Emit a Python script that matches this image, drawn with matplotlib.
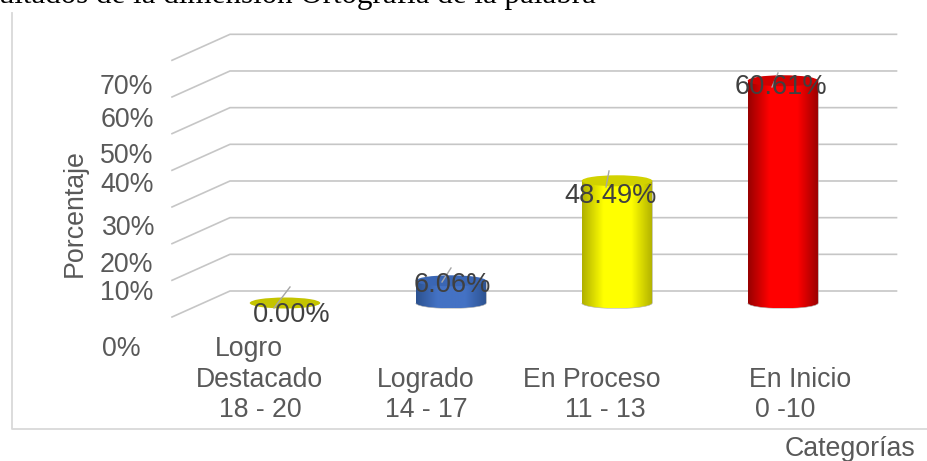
import numpy as np
import matplotlib
matplotlib.use("Agg")
import matplotlib.pyplot as plt
from matplotlib.patches import Ellipse, PathPatch
from matplotlib.path import Path
from matplotlib.transforms import Affine2D
from matplotlib.colors import LinearSegmentedColormap

# -------------------------------
# Data
# -------------------------------
categories = ["Logro Destacado 18 - 20", "Logrado 14 - 17", "En Proceso 11 - 13", "En Inicio 0 -10"]
bar_heights = [0.0, 6.06, 33.33, 60.61]
bar_labels = ["0.00%", "6.06%", "48.49%", "60.61%"]
grid_values = [0, 10, 20, 30, 40, 50, 60, 70]
tick_labels = ["0%", "10%", "20%", "30%", "40%", "50%", "60%", "70%"]
category_lines = ["Logro", "Destacado", "18 - 20", "Logrado", "14 - 17",
                  "En Proceso", "11 - 13", "En Inicio", "0 -10"]

# body colours: edge, centre, lid
bar_colors = [("#c4c400", "#c4c400", "#c4c400"),
              ("#2c5290", "#4472c4", "#3a66b4"),
              ("#b0b000", "#ffff00", "#d2d200"),
              ("#980000", "#ff0000", "#d20000")]

# -------------------------------
# Layout (pixels of the 928x461 picture)
# -------------------------------
W, H = 928, 461
PX_PER_CAT = 166.0
PX_PER_PCT = 3.667
X0_PX = 285.0
Y0_PX = 303.0
BAR_W = 70.5 / PX_PER_CAT
LID = 5.5 / PX_PER_PCT
BACK = 12.0 / PX_PER_PCT
FRONT = 14.0 / PX_PER_PCT

tick_x = [102, 100, 100, 102, 100, 100, 101, 100]
tick_y = [349, 293, 265, 228, 185, 156, 120, 87]
line_x = [249, 260, 260, 426, 426, 592, 605, 800, 785]
line_y = [349, 380, 410, 380, 410, 380, 410, 380, 410]
label_xy = [(292, 315), (452, 285), (611, 196), (781, 87)]
leaders = [((290, 287), (274, 308)), ((451, 268), (442, 282)),
           ((609, 171), (606, 187)), ((778, 73), (772, 87))]

plt.rcParams['font.family'] = ['Liberation Sans', 'DejaVu Sans']

fig = plt.figure(figsize=(W / 100, H / 100), dpi=100)
ax = fig.add_axes([0, 0, 1, 1])
ax.axis('off')

px = Affine2D().scale(1, -1).translate(0, H)


def cat_x(p):
    return (p - X0_PX) / PX_PER_CAT


# chart frame, left and bottom only
ax.plot([11.5, 11.5, W], [13, 429, 429], color="#d9d9d9", lw=1.3, transform=px)

# gridlines: side wall + back wall
for v in grid_values:
    ax.plot([cat_x(172), cat_x(230), cat_x(896.5)],
            [v - FRONT, v + BACK, v + BACK],
            color="#c6c6c6", lw=1.2, zorder=1, solid_joinstyle='miter')

# cylinders
for i, (h, (edge, mid, lid)) in enumerate(zip(bar_heights, bar_colors)):
    left, right = i - BAR_W / 2, i + BAR_W / 2
    if h > 0:
        t = np.linspace(np.pi, 2 * np.pi, 40)
        xs = np.r_[i + BAR_W / 2 * np.cos(t), right, left]
        ys = np.r_[LID * np.sin(t), h, h]
        body = PathPatch(Path(np.c_[xs, ys]), fc='none', ec="#b0b0b0", lw=0.4, zorder=3)
        ax.add_patch(body)
        cmap = LinearSegmentedColormap.from_list(
            "cyl", [(0, edge), (0.3, mid), (0.7, mid), (1, edge)])
        im = ax.imshow(np.linspace(0, 1, 128).reshape(1, -1), cmap=cmap, aspect='auto',
                       extent=(left, right, -LID, h), zorder=2)
        im.set_clip_path(body)
    ax.add_patch(Ellipse((i, h), BAR_W, 2 * LID, fc=lid, ec='none', zorder=4))

ax.set_xlim(-X0_PX / PX_PER_CAT, (W - X0_PX) / PX_PER_CAT)
ax.set_ylim((Y0_PX - H) / PX_PER_PCT, Y0_PX / PX_PER_PCT)

# leader lines + data labels
for (a, b), lab, (x, y) in zip(leaders, bar_labels, label_xy):
    ax.plot([a[0], b[0]], [a[1], b[1]], color="#a6a6a6", lw=1.0, transform=px, zorder=5)
    ax.text(x, y, lab, transform=px, ha='center', va='center', fontsize=19.6,
            color="#404040", zorder=6)

for lab, x, y in zip(tick_labels, tick_x, tick_y):
    ax.text(x, y, lab, transform=px, ha='left', va='center', fontsize=19.3, color="#595959")

for lab, x, y in zip(category_lines, line_x, line_y):
    ax.text(x, y, lab, transform=px, ha='center', va='center', fontsize=19.2, color="#595959")

ax.text(75, 213, "Porcentaje", transform=px, rotation=90, ha='center', va='center',
        fontsize=19.3, color="#595959")
ax.text(850, 449, "Categorías", transform=px, ha='center', va='center',
        fontsize=19.3, color="#595959")

# caption above the chart, cut by the picture edge
ax.text(596, 3, "Resultados de la dimensión Ortografía de la palabra", transform=px,
        ha='right', va='baseline', fontsize=22.3, color="black", family="Liberation Serif",
        clip_on=False)

fig.savefig("out.png", dpi=100)
